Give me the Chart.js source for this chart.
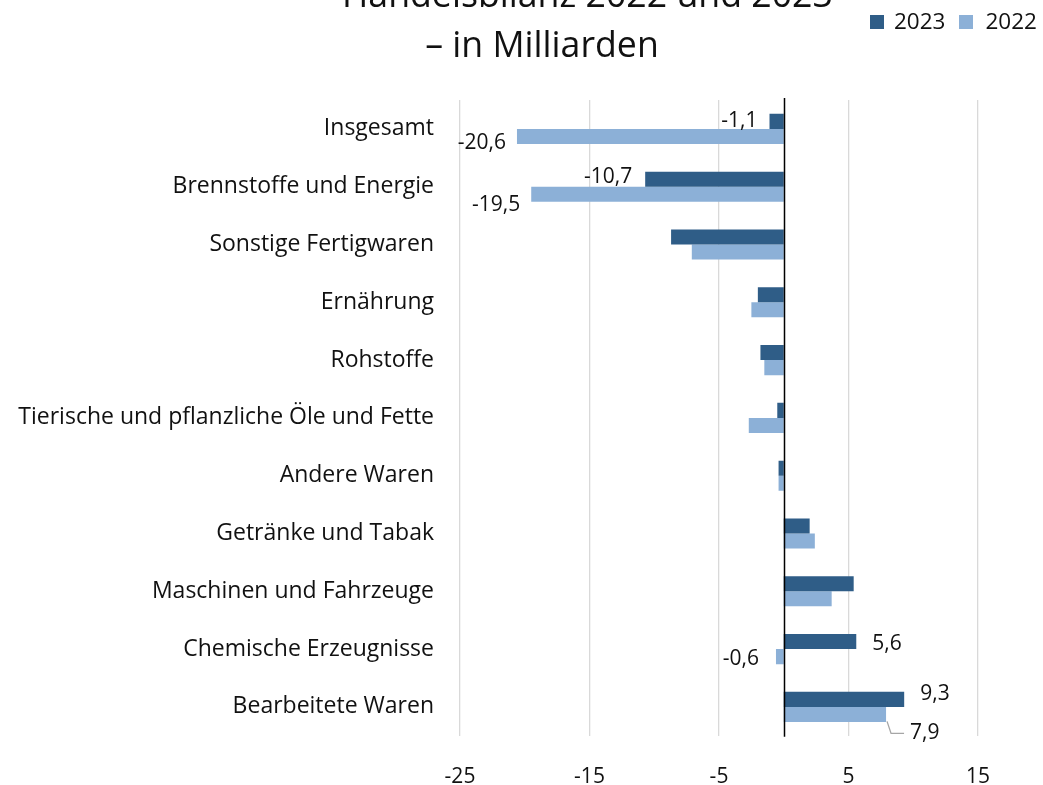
<!DOCTYPE html>
<html>
<head>
<meta charset="utf-8">
<script src="https://cdn.jsdelivr.net/npm/chart.js@4/dist/chart.umd.min.js"></script>
<style>
  html, body { margin: 0; padding: 0; background: #fff; }
  #frame { position: relative; width: 1043px; height: 785px; overflow: hidden; font-family: "Open Sans", sans-serif; color: #111; }
  #inner { position: absolute; left: 0; top: 0; width: 1043px; height: 819px; }
  #title { position: absolute; top: -32px; left: 342px; width: 400px; text-align: center; font-size: 35.7px; line-height: 50px; white-space: nowrap; }
  #legend { position: absolute; top: 5px; left: 870px; font-size: 22.5px; white-space: nowrap; }
  #legend span.box { display: inline-block; width: 14px; height: 14px; margin-right: 10px; vertical-align: 0px; }
  #legend span.item { margin-right: 14px; }
  #legend span.item + span.item span.box { margin-right: 12px; }
</style>
</head>
<body>
<div id="frame">
  <div id="inner"><canvas id="ChartCanvas"></canvas></div>
  <div id="title">Handelsbilanz 2022 und 2023<br>– in Milliarden</div>
  <div id="legend"></div>
</div>
<script>
const categories = [
  'Insgesamt',
  'Brennstoffe und Energie',
  'Sonstige Fertigwaren',
  'Ernährung',
  'Rohstoffe',
  'Tierische und pflanzliche Öle und Fette',
  'Andere Waren',
  'Getränke und Tabak',
  'Maschinen und Fahrzeuge',
  'Chemische Erzeugnisse',
  'Bearbeitete Waren'
];
const values2023 = [-1.1, -10.7, -8.7, -2.0, -1.8, -0.5, -0.4, 2.0, 5.4, 5.6, 9.3];
const values2022 = [-20.6, -19.5, -7.1, -2.5, -1.5, -2.7, -0.4, 2.4, 3.7, -0.6, 7.9];
const xTicks = [-25, -15, -5, 5, 15];

const color2023 = '#2f5d87';
const color2022 = '#8cb0d7';

// which bars carry a value label, with offsets tuned to the reference
const labelled = {
  '0-0': {dx: -12, dy: 0},  '1-0': {dx: -11, dy: 7},
  '0-1': {dx: -13, dy: -2}, '1-1': {dx: -11, dy: 11},
  '0-9': {dx: 16, dy: 2},   '1-9': {dx: -17, dy: 2},
  '0-10': {dx: 16, dy: -5}, '1-10': {dx: 24, dy: 19, leader: true}
};

function fmt(v) {
  return v.toFixed(1).replace('.', ',');
}

/**
 * Draws the black zero line over the bars.
 */
const zeroLine = {
  id: 'zeroLine',
  afterDatasetsDraw: chart => {
    const ctx = chart.ctx;
    const x = Math.round(chart.scales.x.getPixelForValue(0)) + 0.5;
    ctx.save();
    ctx.beginPath();
    ctx.moveTo(x, chart.chartArea.top - 2);
    ctx.lineTo(x, chart.chartArea.bottom + 1);
    ctx.lineWidth = 1.5;
    ctx.strokeStyle = '#000';
    ctx.stroke();
    ctx.restore();
  }
};

/**
 * Draws the value labels next to the bar ends.
 */
const valueLabels = {
  id: 'valueLabels',
  afterDraw: chart => {
    const ctx = chart.ctx;
    ctx.save();
    ctx.font = '21px "Open Sans"';
    ctx.fillStyle = '#111';
    ctx.textBaseline = 'middle';
    chart.data.datasets.forEach((dataset, d) => {
      const meta = chart.getDatasetMeta(d);
      meta.data.forEach((bar, i) => {
        const cfg = labelled[d + '-' + i];
        if (!cfg) return;
        const v = dataset.data[i];
        const x = bar.x + cfg.dx;
        const y = bar.y + cfg.dy;
        ctx.textAlign = v < 0 ? 'right' : 'left';
        if (cfg.leader) {
          ctx.beginPath();
          ctx.strokeStyle = '#a6a6a6';
          ctx.lineWidth = 1.3;
          ctx.moveTo(bar.x + 1, bar.y + 7);
          ctx.lineTo(bar.x + 5, y);
          ctx.lineTo(x - 6, y);
          ctx.stroke();
        }
        ctx.fillText(fmt(v), x, y);
      });
    });
    ctx.restore();
  }
};

const legendEl = document.getElementById('legend');
[['2023', color2023], ['2022', color2022]].forEach(([label, col]) => {
  const item = document.createElement('span');
  item.className = 'item';
  const box = document.createElement('span');
  box.className = 'box';
  box.style.background = col;
  item.appendChild(box);
  item.appendChild(document.createTextNode(label));
  legendEl.appendChild(item);
});

Chart.defaults.font.family = '"Open Sans", sans-serif';
Chart.defaults.color = '#111';

new Chart(document.getElementById('ChartCanvas'), {
  type: 'bar',
  data: {
    labels: categories,
    datasets: [{
      label: '2023',
      data: values2023,
      backgroundColor: color2023,
      categoryPercentage: 0.52,
      barPercentage: 1
    }, {
      label: '2022',
      data: values2022,
      backgroundColor: color2022,
      categoryPercentage: 0.52,
      barPercentage: 1
    }]
  },
  options: {
    indexAxis: 'y',
    animation: false,
    responsive: true,
    maintainAspectRatio: false,
    layout: {
      padding: {left: 0, right: 65, top: 100, bottom: 0}
    },
    scales: {
      x: {
        min: -25,
        max: 15,
        afterBuildTicks: scale => {
          scale.ticks = xTicks.map(v => ({value: v}));
        },
        grid: {color: '#d9d9d9', lineWidth: 1.3, drawTicks: false},
        border: {display: false},
        ticks: {font: {size: 21}, padding: 29, color: '#111'}
      },
      y: {
        afterFit: scale => {
          scale.width = 460;
        },
        grid: {display: false, drawTicks: false},
        border: {display: false},
        ticks: {font: {size: 23}, padding: 26, color: '#111'}
      }
    },
    plugins: {
      legend: {display: false},
      tooltip: {enabled: false},
      title: {display: false}
    }
  },
  plugins: [zeroLine, valueLabels]
});
</script>
</body>
</html>
